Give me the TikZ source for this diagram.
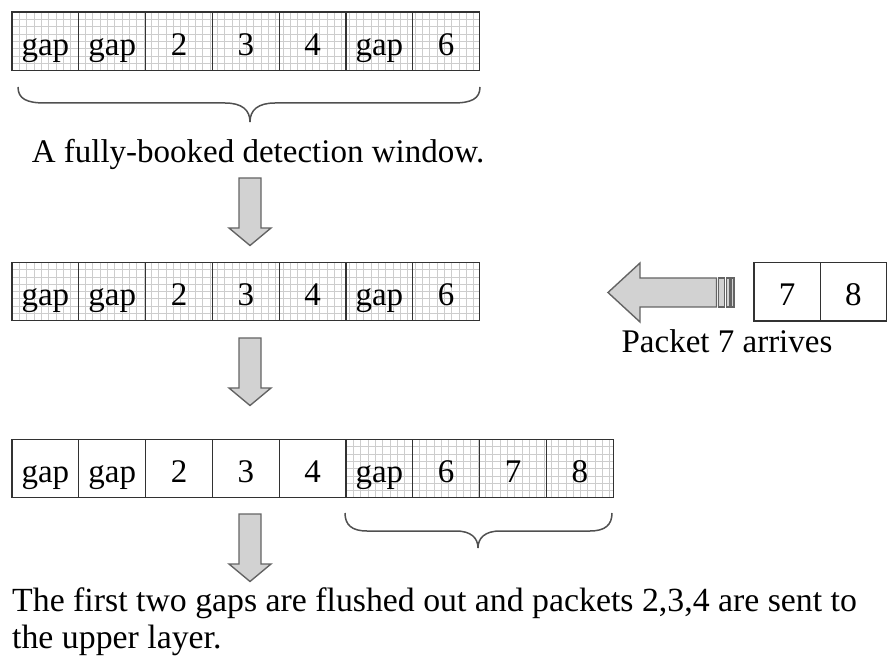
\documentclass[tikz,border=0pt]{standalone}
\usepackage{fontspec}
\setmainfont{Liberation Serif}
\definecolor{cellline}{RGB}{50,50,50}
\definecolor{gridgray}{RGB}{205,205,205}
\definecolor{arrowfill}{RGB}{210,210,210}
\definecolor{arrowline}{RGB}{100,100,100}
\definecolor{braceline}{RGB}{80,80,80}
\tikzset{
  cell/.style={draw=cellline, line width=1.3pt, rectangle, minimum width=66.8pt,
    minimum height=58.5pt, inner sep=0pt, text height=30pt, text depth=2pt,
    font=\fontsize{33}{38}\selectfont},
  gridlines/.style={draw=gridgray, line width=0.8pt},
  blockarrow/.style={fill=arrowfill, draw=arrowline, line width=1.4pt, line join=miter},
  bracepath/.style={draw=braceline, line width=1.5pt},
  caption/.style={inner sep=0pt, font=\fontsize{33}{38}\selectfont},
  downarrow/.pic={
    \draw[blockarrow] (-11,0) -- (11,0) -- (11,50) -- (21,50) -- (0,67.5)
      -- (-21,50) -- (-11,50) -- cycle;
  }
}
\begin{document}
\begin{tikzpicture}[x=1pt, y=-1pt]
\useasboundingbox (0,0) rectangle (887,660);

% squared background of the booked cells
\begin{scope}
  \clip (12,12) rectangle (479.6,70.5);
  \foreach \i in {0,...,64} \draw[gridlines] (12+7.33*\i,0) -- (12+7.33*\i,80);
  \foreach \j in {0,...,8} \draw[gridlines] (0,12+7.33*\j) -- (490,12+7.33*\j);
\end{scope}
\begin{scope}
  \clip (12,262.25) rectangle (479.6,320.75);
  \foreach \i in {0,...,64} \draw[gridlines] (12+7.33*\i,250) -- (12+7.33*\i,330);
  \foreach \j in {0,...,8} \draw[gridlines] (0,262.25+7.33*\j) -- (490,262.25+7.33*\j);
\end{scope}
\begin{scope}
  \clip (346,439.25) rectangle (613.2,497.75);
  \foreach \i in {0,...,37} \draw[gridlines] (346+7.33*\i,430) -- (346+7.33*\i,510);
  \foreach \j in {0,...,8} \draw[gridlines] (340,439.25+7.33*\j) -- (620,439.25+7.33*\j);
\end{scope}

% first window
\foreach \t [count=\k] in {gap,gap,2,3,4,gap,6}
  \node[cell] (a\k) at (12+66.8*\k-33.4,41.25) {\t};
% second window
\foreach \t [count=\k] in {gap,gap,2,3,4,gap,6}
  \node[cell] (b\k) at (12+66.8*\k-33.4,291.5) {\t};
% third window
\foreach \t [count=\k] in {gap,gap,2,3,4,gap,6,7,8}
  \node[cell] (c\k) at (12+66.8*\k-33.4,468.5) {\t};
% incoming packets
\node[cell, minimum width=66.3pt] (p7) at (787.15,291.8) {7};
\node[cell, minimum width=66.3pt] (p8) at (853.45,291.8) {8};

% braces
\draw[bracepath] (18,87) .. controls (18,99) and (27,103) .. (45,103) -- (225,103)
  .. controls (242,103) and (250,110) .. (250,122)
  .. controls (250,110) and (258,103) .. (275,103) -- (453,103)
  .. controls (471,103) and (480,99) .. (480,87);
\draw[bracepath] (345,513) .. controls (345,525) and (352,531) .. (367,531) -- (456,531)
  .. controls (471,531) and (478,538) .. (478,548)
  .. controls (478,538) and (485,531) .. (500,531) -- (590,531)
  .. controls (605,531) and (612,525) .. (612,513);

% captions
\node[caption, anchor=base] (booked) at (258,163) {A fully-booked detection window.};
\node[caption, anchor=base] (arrives) at (727,353) {Packet 7 arrives};
\node[caption, anchor=base west, font=\fontsize{33.8}{38}\selectfont] (flush1) at (12,611)
  {The first two gaps are flushed out and packets 2,3,4 are sent to};
\node[caption, anchor=base west, font=\fontsize{33.8}{38}\selectfont] (flush2) at (12,648)
  {the upper layer.};

% downward block arrows
\pic at (250,178) {downarrow};
\pic at (250,338) {downarrow};
\pic at (250,514) {downarrow};

% striped arrow pointing left
\draw[blockarrow] (608,292.5) -- (640,263) -- (640,278) -- (716.5,278) -- (716.5,307)
  -- (640,307) -- (640,322) -- cycle;
\draw[blockarrow] (718.5,278) rectangle (724.5,307);
\draw[blockarrow] (726.5,278) rectangle (729.5,307);
\draw[blockarrow] (731,278) rectangle (734,307);
\end{tikzpicture}
\end{document}
